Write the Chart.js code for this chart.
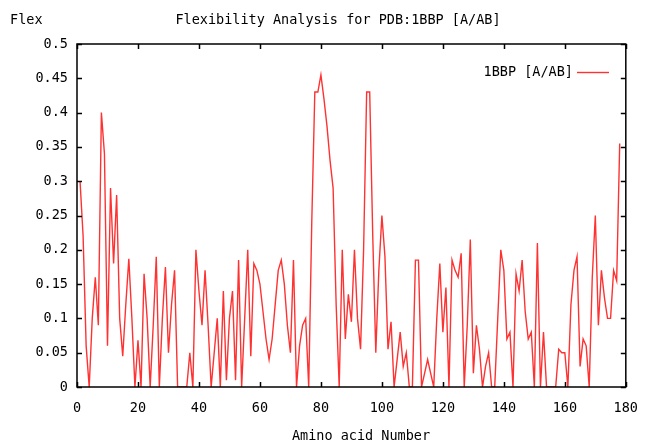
<!DOCTYPE html>
<html lang="en">
<head>
<meta charset="UTF-8">
<script src="https://cdn.jsdelivr.net/npm/chart.js"></script>
<title>Flexibility Analysis for PDB:1BBP [A/AB]</title>
<style>
  html, body { margin: 0; padding: 0; background: #fff; }
  #wrap { width: 651px; height: 444px; }
</style>
</head>
<body>
<div id="wrap"><canvas id="flexChart"></canvas></div>
<script>
const chartTitle = 'Flexibility Analysis for PDB:1BBP [A/AB]';
const yName = 'Flex';
const xName = 'Amino acid Number';
const seriesLabel = '1BBP [A/AB]';

// flexibility per residue, starting at residue 1
const firstResidue = 1;
const flex = [
  0.30, 0.22, 0.06, 0.00, 0.10, 0.16, 0.09, 0.40, 0.34, 0.06,
  0.29, 0.18, 0.28, 0.10, 0.045, 0.12, 0.187, 0.10, 0.00, 0.068,
  0.00, 0.165, 0.10, 0.00, 0.09, 0.19, 0.00, 0.10, 0.175, 0.05,
  0.12, 0.17, 0.00, 0.00, 0.00, 0.00, 0.05, 0.00, 0.20, 0.14,
  0.09, 0.17, 0.09, 0.00, 0.05, 0.10, 0.00, 0.14, 0.01, 0.10,
  0.14, 0.01, 0.185, 0.00, 0.10, 0.20, 0.045, 0.18, 0.17, 0.15,
  0.11, 0.07, 0.04, 0.07, 0.12, 0.17, 0.185, 0.15, 0.09, 0.05,
  0.185, 0.00, 0.06, 0.09, 0.10, 0.00, 0.24, 0.43, 0.43, 0.455,
  0.42, 0.38, 0.33, 0.29, 0.12, 0.00, 0.20, 0.07, 0.135, 0.095,
  0.20, 0.10, 0.055, 0.20, 0.43, 0.43, 0.22, 0.05, 0.17, 0.25,
  0.19, 0.055, 0.095, 0.00, 0.04, 0.08, 0.03, 0.05, 0.00, 0.00,
  0.185, 0.185, 0.00, 0.02, 0.04, 0.02, 0.00, 0.10, 0.18, 0.08,
  0.145, 0.00, 0.185, 0.17, 0.16, 0.195, 0.00, 0.09, 0.215, 0.02,
  0.09, 0.055, 0.00, 0.03, 0.05, 0.00, 0.00, 0.10, 0.20, 0.17,
  0.07, 0.08, 0.00, 0.165, 0.14, 0.185, 0.11, 0.07, 0.08, 0.00,
  0.21, 0.00, 0.08, 0.00, 0.00, 0.00, 0.00, 0.055, 0.05, 0.05,
  0.00, 0.12, 0.17, 0.19, 0.03, 0.07, 0.06, 0.00, 0.16, 0.25,
  0.09, 0.17, 0.13, 0.10, 0.10, 0.17, 0.155, 0.355
];

const xTicks = [0, 20, 40, 60, 80, 100, 120, 140, 160, 180];
const yTicks = [0, 0.05, 0.1, 0.15, 0.2, 0.25, 0.3, 0.35, 0.4, 0.45, 0.5];
const yTickLabels = ['0', '0.05', '0.1', '0.15', '0.2', '0.25', '0.3', '0.35', '0.4', '0.45', '0.5'];

const lineColor = 'rgb(255, 50, 50)';
const fontFamily = "'DejaVu Sans Mono', monospace";
const fontSize = 13.5;

// gnuplot style frame, inward ticks, key and texts
const gnuplotFrame = {
  id: 'gnuplotFrame',
  afterDraw(chart) {
    const ctx = chart.ctx;
    const a = chart.chartArea;
    const xs = chart.scales.x;
    const ys = chart.scales.y;
    const tl = 5;
    ctx.save();
    ctx.strokeStyle = '#000';
    ctx.lineWidth = 1.5;
    ctx.strokeRect(a.left, a.top, a.right - a.left, a.bottom - a.top);
    ctx.beginPath();
    xTicks.forEach(v => {
      const px = Math.round(xs.getPixelForValue(v)) + 0.5;
      ctx.moveTo(px, a.bottom); ctx.lineTo(px, a.bottom - tl);
      ctx.moveTo(px, a.top); ctx.lineTo(px, a.top + tl);
    });
    yTicks.forEach(v => {
      const py = Math.round(ys.getPixelForValue(v)) + 0.5;
      ctx.moveTo(a.left, py); ctx.lineTo(a.left + tl, py);
      ctx.moveTo(a.right, py); ctx.lineTo(a.right - tl, py);
    });
    ctx.stroke();

    ctx.fillStyle = '#000';
    ctx.font = fontSize + 'px ' + fontFamily;
    ctx.textBaseline = 'middle';
    ctx.textAlign = 'left';
    ctx.fillText(yName, 10, 20);
    ctx.textAlign = 'center';
    ctx.fillText(chartTitle, 338, 20);
    ctx.fillText(xName, 361, 436);

    // key
    ctx.textAlign = 'right';
    ctx.fillText(seriesLabel, 573, 72);
    ctx.strokeStyle = lineColor;
    ctx.lineWidth = 1.4;
    ctx.beginPath();
    ctx.moveTo(577, 72.5);
    ctx.lineTo(609, 72.5);
    ctx.stroke();
    ctx.restore();
  }
};

const ctx = document.getElementById('flexChart');

new Chart(ctx, {
  type: 'line',
  data: {
    datasets: [{
      label: seriesLabel,
      data: flex.map((v, i) => ({ x: firstResidue + i, y: v })),
      borderColor: lineColor,
      borderWidth: 1.4,
      pointRadius: 0,
      tension: 0,
      fill: false
    }]
  },
  options: {
    responsive: true,
    maintainAspectRatio: false,
    animation: false,
    devicePixelRatio: 1,
    layout: { padding: { left: 0, top: 44, right: 17, bottom: 0 } },
    plugins: {
      legend: { display: false },
      title: { display: false },
      tooltip: { enabled: false }
    },
    scales: {
      x: {
        type: 'linear',
        min: 0,
        max: 180,
        afterFit: s => { s.height = 57; },
        afterBuildTicks: s => { s.ticks = xTicks.map(v => ({ value: v })); },
        grid: { display: false, drawTicks: false },
        border: { display: false },
        ticks: {
          color: '#000',
          padding: 13,
          maxRotation: 0,
          font: { family: fontFamily, size: fontSize },
          callback: v => String(v)
        }
      },
      y: {
        min: 0,
        max: 0.5,
        afterFit: s => { s.width = 77; },
        afterBuildTicks: s => { s.ticks = yTicks.map(v => ({ value: v })); },
        grid: { display: false, drawTicks: false },
        border: { display: false },
        ticks: {
          color: '#000',
          padding: 9,
          font: { family: fontFamily, size: fontSize },
          callback: (v, i) => yTickLabels[i]
        }
      }
    }
  },
  plugins: [gnuplotFrame]
});
</script>
</body>
</html>
